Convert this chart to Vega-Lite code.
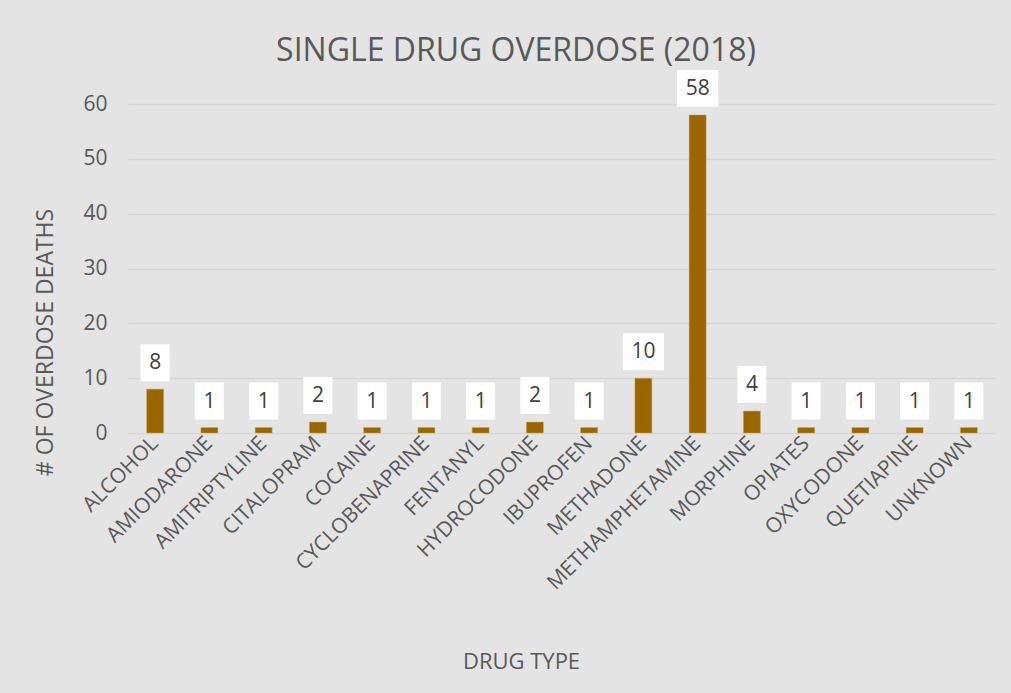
{
  "$schema": "https://vega.github.io/schema/vega-lite/v6.json",
  "width": 868,
  "height": 329,
  "autosize": {"type": "none"},
  "padding": {"left": 128, "top": 104, "right": 15, "bottom": 260},
  "background": "#e4e4e4",
  "title": {
    "text": "SINGLE DRUG OVERDOSE (2018)",
    "font": "Open Sans",
    "fontSize": 32,
    "fontWeight": "normal",
    "color": "#595959",
    "anchor": "middle",
    "frame": "group",
    "dx": -46,
    "offset": 2
  },
  "data": {
    "values": [
      {"drug": "ALCOHOL", "deaths": 8},
      {"drug": "AMIODARONE", "deaths": 1},
      {"drug": "AMITRIPTYLINE", "deaths": 1},
      {"drug": "CITALOPRAM", "deaths": 2},
      {"drug": "COCAINE", "deaths": 1},
      {"drug": "CYCLOBENAPRINE", "deaths": 1},
      {"drug": "FENTANYL", "deaths": 1},
      {"drug": "HYDROCODONE", "deaths": 2},
      {"drug": "IBUPROFEN", "deaths": 1},
      {"drug": "METHADONE", "deaths": 10},
      {"drug": "METHAMPHETAMINE", "deaths": 58},
      {"drug": "MORPHINE", "deaths": 4},
      {"drug": "OPIATES", "deaths": 1},
      {"drug": "OXYCODONE", "deaths": 1},
      {"drug": "QUETIAPINE", "deaths": 1},
      {"drug": "UNKNOWN", "deaths": 1}
    ]
  },
  "encoding": {
    "x": {
      "field": "drug",
      "type": "nominal",
      "sort": null,
      "scale": {"paddingInner": 0, "paddingOuter": 0},
      "axis": {
        "title": "DRUG TYPE",
        "titleFont": "Open Sans",
        "titleFontSize": 22,
        "titleFontWeight": "normal",
        "titleColor": "#595959",
        "titleX": 393,
        "titleY": 235,
        "titleAnchor": null,
        "titleAlign": "center",
        "titleBaseline": "alphabetic",
        "labelFont": "Open Sans",
        "labelFontSize": 21,
        "labelColor": "#595959",
        "labelAngle": -45,
        "labelAlign": "right",
        "labelBaseline": "middle",
        "labelPadding": 7,
        "labelLimit": 400,
        "labelOverlap": false,
        "ticks": false,
        "domain": false,
        "grid": false
      }
    },
    "y": {
      "field": "deaths",
      "type": "quantitative",
      "scale": {"domain": [0, 60], "nice": false},
      "axis": {
        "title": "# OF OVERDOSE DEATHS",
        "titleFont": "Open Sans",
        "titleFontSize": 23,
        "titleFontWeight": "normal",
        "titleColor": "#595959",
        "titleX": -83,
        "titleY": 238,
        "titleAngle": -90,
        "titleAlign": "center",
        "titleBaseline": "middle",
        "values": [0, 10, 20, 30, 40, 50, 60],
        "labelFont": "Open Sans",
        "labelFontSize": 21,
        "labelColor": "#595959",
        "labelPadding": 21,
        "ticks": false,
        "domain": false,
        "grid": true,
        "gridColor": "#d6d6d6",
        "gridWidth": 1.5
      }
    }
  },
  "layer": [
    {
      "mark": {"type": "bar", "width": 17, "color": "#996600", "stroke": "#c8a860", "strokeWidth": 0.5}
    },
    {
      "mark": {"type": "point", "filled": true, "fill": "white", "opacity": 1, "strokeWidth": 0, "size": 1369, "yOffset": -26.5},
      "encoding": {
        "shape": {
          "condition": {"test": "datum.deaths >= 10", "value": "M-1.108,-1L1.108,-1L1.108,1L-1.108,1Z"},
          "value": "M-0.784,-1L0.784,-1L0.784,1L-0.784,1Z"
        }
      }
    },
    {
      "mark": {"type": "text", "font": "Open Sans", "fontSize": 21, "color": "#404040", "baseline": "middle", "align": "center", "yOffset": -26},
      "encoding": {"text": {"field": "deaths", "type": "quantitative"}}
    }
  ],
  "config": {"view": {"stroke": null}}
}
